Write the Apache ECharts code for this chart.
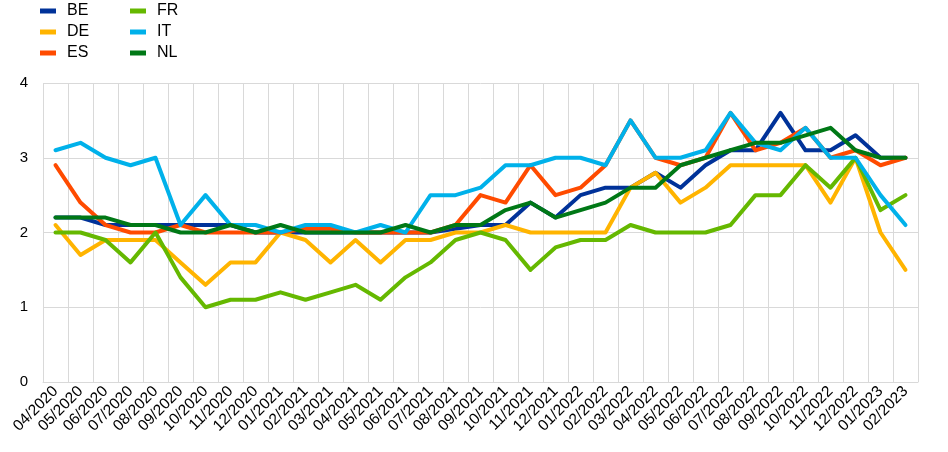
<!DOCTYPE html>
<html>
<head>
<meta charset="utf-8">
<script src="https://cdn.jsdelivr.net/npm/echarts@6/dist/echarts.min.js"></script>
<style>
html,body{margin:0;padding:0;background:#fff;}
#chart{width:948px;height:452px;}
</style>
</head>
<body>
<div id="chart"></div>
<script>
const categories = ["04/2020","05/2020","06/2020","07/2020","08/2020","09/2020","10/2020","11/2020","12/2020",
  "01/2021","02/2021","03/2021","04/2021","05/2021","06/2021","07/2021","08/2021","09/2021","10/2021","11/2021","12/2021",
  "01/2022","02/2022","03/2022","04/2022","05/2022","06/2022","07/2022","08/2022","09/2022","10/2022","11/2022","12/2022",
  "01/2023","02/2023"];

const BE = [2.2,2.2,2.1,2.1,2.1,2.1,2.1,2.1,2.0,2.0,2.0,2.0,2.0,2.0,2.0,2.0,2.05,2.1,2.1,2.4,2.2,2.5,2.6,2.6,2.8,2.6,2.9,3.1,3.1,3.6,3.1,3.1,3.3,3.0,3.0];
const DE = [2.1,1.7,1.9,1.9,1.9,1.6,1.3,1.6,1.6,2.0,1.9,1.6,1.9,1.6,1.9,1.9,2.0,2.0,2.1,2.0,2.0,2.0,2.0,2.6,2.8,2.4,2.6,2.9,2.9,2.9,2.9,2.4,3.0,2.0,1.5];
const ES = [2.9,2.4,2.1,2.0,2.0,2.1,2.0,2.0,2.0,2.0,2.05,2.05,2.0,2.0,2.0,2.0,2.1,2.5,2.4,2.9,2.5,2.6,2.9,3.5,3.0,2.9,3.0,3.6,3.1,3.2,3.4,3.0,3.1,2.9,3.0];
const FR = [2.0,2.0,1.9,1.6,2.0,1.4,1.0,1.1,1.1,1.2,1.1,1.2,1.3,1.1,1.4,1.6,1.9,2.0,1.9,1.5,1.8,1.9,1.9,2.1,2.0,2.0,2.0,2.1,2.5,2.5,2.9,2.6,3.0,2.3,2.5];
const IT = [3.1,3.2,3.0,2.9,3.0,2.1,2.5,2.1,2.1,2.0,2.1,2.1,2.0,2.1,2.0,2.5,2.5,2.6,2.9,2.9,3.0,3.0,2.9,3.5,3.0,3.0,3.1,3.6,3.2,3.1,3.4,3.0,3.0,2.5,2.1];
const NL = [2.2,2.2,2.2,2.1,2.1,2.0,2.0,2.1,2.0,2.1,2.0,2.0,2.0,2.0,2.1,2.0,2.1,2.1,2.3,2.4,2.2,2.3,2.4,2.6,2.6,2.9,3.0,3.1,3.2,3.2,3.3,3.4,3.1,3.0,3.0];

const yTicks = [0,1,2,3,4];

const seriesNames = ["BE","DE","ES","FR","IT","NL"];
const seriesData = [BE, DE, ES, FR, IT, NL];
const colors = ["#003299","#FFB400","#FF4B00","#65B800","#00B1EA","#007816"];

const font = "'Liberation Sans', Arial, sans-serif";
const chart = echarts.init(document.getElementById('chart'), null, {renderer:'canvas'});

const legendBase = {
  orient: 'vertical',
  top: 3,
  padding: 0,
  icon: 'rect',
  itemWidth: 16,
  itemHeight: 5,
  itemGap: 5,
  textStyle: {fontFamily: font, fontSize: 16, color: '#000', lineHeight: 16, padding: [0,0,0,6]},
  selectedMode: false
};

chart.setOption({
  animation: false,
  color: colors,
  legend: [
    Object.assign({}, legendBase, {left: 40, data: ["BE","DE","ES"]}),
    Object.assign({}, legendBase, {left: 130, data: ["FR","IT","NL"]})
  ],
  grid: {left: 43, right: 30, top: 83, bottom: 70, containLabel: false},
  xAxis: {
    type: 'category',
    data: categories,
    boundaryGap: true,
    axisLine: {show: true, lineStyle: {color: '#d9d9d9', width: 1}},
    axisTick: {show: false},
    splitLine: {show: true, lineStyle: {color: '#d9d9d9', width: 1}},
    axisLabel: {interval: 0, rotate: 45, fontFamily: font, fontSize: 15.5, color: '#000', margin: 7}
  },
  yAxis: {
    type: 'value',
    min: yTicks[0],
    max: yTicks[yTicks.length-1],
    interval: 1,
    axisLine: {show: false},
    axisTick: {show: false},
    splitLine: {show: true, lineStyle: {color: '#d9d9d9', width: 1}},
    axisLabel: {fontFamily: font, fontSize: 15, color: '#000', margin: 15}
  },
  series: seriesNames.map((n, k) => ({
    name: n,
    type: 'line',
    data: seriesData[k],
    symbol: 'none',
    lineStyle: {width: 4, color: colors[k], join: 'round', cap: 'round'},
    itemStyle: {color: colors[k]}
  }))
});
</script>
</body>
</html>
